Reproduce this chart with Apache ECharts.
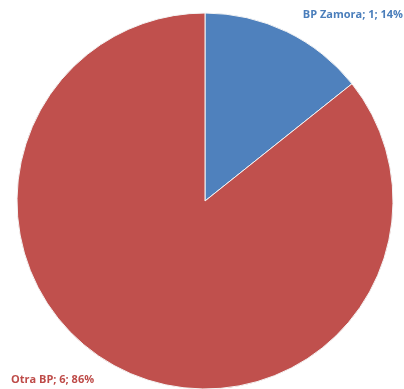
<!DOCTYPE html>
<html>
<head>
<meta charset="utf-8">
<script src="https://cdn.jsdelivr.net/npm/echarts@6/dist/echarts.min.js"></script>
<style>
  html, body { margin: 0; padding: 0; background: #fff; }
  #chart { width: 404px; height: 389px; }
</style>
</head>
<body>
<div id="chart"></div>
<script>
// datos del grafico
var categories = ['BP Zamora', 'Otra BP'];
var values = [1, 6];
var colors = ['#4F81BD', '#C0504D'];
var labelColors = ['#4A7EBB', '#BE4B48'];

var myChart = echarts.init(document.getElementById('chart'));

var total = values.reduce(function (a, b) { return a + b; }, 0);

var option = {
  animation: false,
  series: [
    {
      type: 'pie',
      center: [205, 201],
      radius: 188,
      startAngle: 90,
      clockwise: true,
      itemStyle: { borderColor: '#f4f4f4', borderWidth: 1 },
      data: categories.map(function (c, i) {
        return {
          name: c,
          value: values[i],
          itemStyle: { color: colors[i] },
          label: { color: labelColors[i] }
        };
      }),
      label: {
        show: true,
        fontFamily: 'Open Sans',
        fontWeight: 'bold',
        fontSize: 11,
        overflow: 'none',
        formatter: function (p) {
          return p.name + '; ' + p.value + '; ' + Math.round(p.value / total * 100) + '%';
        }
      },
      labelLine: { show: false },
      labelLayout: function (params) {
        if (params.dataIndex === 0) {
          return { x: 403, y: 15, align: 'right', verticalAlign: 'middle' };
        }
        return { x: 11, y: 380, align: 'left', verticalAlign: 'middle' };
      }
    }
  ]
};

myChart.setOption(option);
</script>
</body>
</html>
